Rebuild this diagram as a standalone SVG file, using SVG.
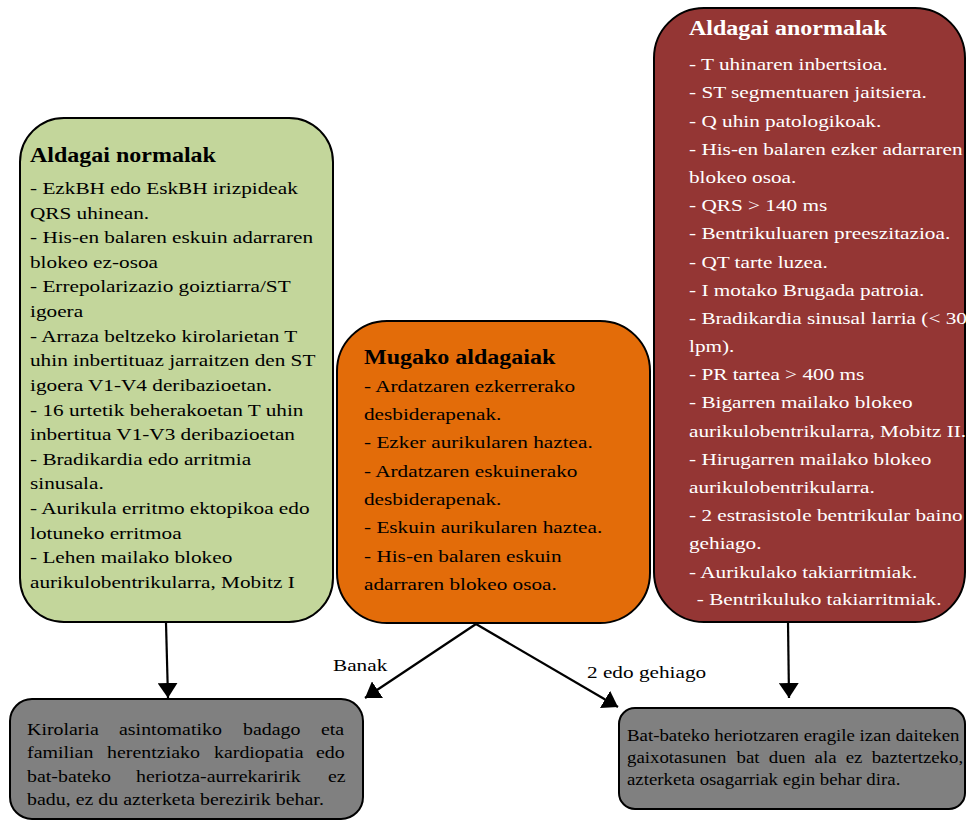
<svg xmlns="http://www.w3.org/2000/svg" width="966" height="821" viewBox="0 0 966 821">
<defs>
<marker id="ah" viewBox="0 0 15 20" refX="15" refY="10" markerWidth="15" markerHeight="20" markerUnits="userSpaceOnUse" orient="auto"><path d="M0,0 L15,10 L0,20 z" fill="#000"/></marker>
</defs>
<style>
.box{stroke:#000;stroke-width:2}
.t{font-family:"Liberation Serif","Times New Roman",serif;font-size:17.7px;fill:#000}
.h{font-weight:bold;font-size:20px}
.w{fill:#fff}
.s{font-size:16.6px}
.r{font-size:15.7px}
.c{stroke:#000;stroke-width:2.2;fill:none;marker-end:url(#ah)}
</style>
<rect width="966" height="821" fill="#fff"/>
<g id="normal">
<rect class="box" x="20" y="118" width="313" height="504" rx="44" fill="#C3D69B"/>
<text class="t" transform="matrix(1.2 0 0 1 30 0)">
<tspan class="h" x="0" y="162">Aldagai normalak</tspan>
<tspan x="0" y="194">- EzkBH edo EskBH irizpideak</tspan>
<tspan x="0" y="219">QRS uhinean.</tspan>
<tspan x="0" y="243">- His-en balaren eskuin adarraren</tspan>
<tspan x="0" y="268">blokeo ez-osoa</tspan>
<tspan x="0" y="292">- Errepolarizazio goiztiarra/ST</tspan>
<tspan x="0" y="317">igoera</tspan>
<tspan x="0" y="342">- Arraza beltzeko kirolarietan T</tspan>
<tspan x="0" y="366">uhin inbertituaz jarraitzen den ST</tspan>
<tspan x="0" y="391">igoera V1-V4 deribazioetan.</tspan>
<tspan x="0" y="416">- 16 urtetik beherakoetan T uhin</tspan>
<tspan x="0" y="440">inbertitua V1-V3 deribazioetan</tspan>
<tspan x="0" y="465">- Bradikardia edo arritmia</tspan>
<tspan x="0" y="489">sinusala.</tspan>
<tspan x="0" y="514">- Aurikula erritmo ektopikoa edo</tspan>
<tspan x="0" y="539">lotuneko erritmoa</tspan>
<tspan x="0" y="563">- Lehen mailako blokeo</tspan>
<tspan x="0" y="588">aurikulobentrikularra, Mobitz I</tspan>
</text>
</g>
<g id="mugako">
<rect class="box" x="337" y="321" width="313" height="302" rx="50" fill="#E36C09"/>
<text class="t" transform="matrix(1.2 0 0 1 364 0)">
<tspan class="h" x="0" y="364">Mugako aldagaiak</tspan>
<tspan x="0" y="392">- Ardatzaren ezkerrerako</tspan>
<tspan x="0" y="420">desbiderapenak.</tspan>
<tspan x="0" y="448">- Ezker aurikularen haztea.</tspan>
<tspan x="0" y="477">- Ardatzaren eskuinerako</tspan>
<tspan x="0" y="505">desbiderapenak.</tspan>
<tspan x="0" y="533">- Eskuin aurikularen haztea.</tspan>
<tspan x="0" y="562">- His-en balaren eskuin</tspan>
<tspan x="0" y="590">adarraren blokeo osoa.</tspan>
</text>
</g>
<g id="anormal">
<rect class="box" x="654" y="8" width="311" height="614" rx="50" fill="#943634"/>
<text class="t w" transform="matrix(1.2 0 0 1 689 0)">
<tspan class="h w" x="0" y="35">Aldagai anormalak</tspan>
<tspan x="0" y="70">- T uhinaren inbertsioa.</tspan>
<tspan x="0" y="98">- ST segmentuaren jaitsiera.</tspan>
<tspan x="0" y="127">- Q uhin patologikoak.</tspan>
<tspan x="0" y="155">- His-en balaren ezker adarraren</tspan>
<tspan x="0" y="183">blokeo osoa.</tspan>
<tspan x="0" y="211">- QRS &gt; 140 ms</tspan>
<tspan x="0" y="239">- Bentrikuluaren preeszitazioa.</tspan>
<tspan x="0" y="268">- QT tarte luzea.</tspan>
<tspan x="0" y="296">- I motako Brugada patroia.</tspan>
<tspan x="0" y="324">- Bradikardia sinusal larria (&lt; 30</tspan>
<tspan x="0" y="352">lpm).</tspan>
<tspan x="0" y="380">- PR tartea &gt; 400 ms</tspan>
<tspan x="0" y="408">- Bigarren mailako blokeo</tspan>
<tspan x="0" y="437">aurikulobentrikularra, Mobitz II.</tspan>
<tspan x="0" y="465">- Hirugarren mailako blokeo</tspan>
<tspan x="0" y="493">aurikulobentrikularra.</tspan>
<tspan x="0" y="521">- 2 estrasistole bentrikular baino</tspan>
<tspan x="0" y="549">gehiago.</tspan>
<tspan x="0" y="578">- Aurikulako takiarritmiak.</tspan>
<tspan x="6.5" y="605">- Bentrikuluko takiarritmiak.</tspan>
</text>
</g>
<g id="ezBerezirik">
<rect class="box" x="10" y="699" width="353" height="120" rx="22" fill="#808080"/>
<text class="t s" transform="matrix(1.2 0 0 1 27 0)">
<tspan x="0" y="735">Kirolaria</tspan><tspan x="76.7" y="735">asintomatiko</tspan><tspan x="180" y="735">badago</tspan><tspan x="245" y="735">eta</tspan>
<tspan x="0" y="758">familian</tspan><tspan x="66.7" y="758">herentziako</tspan><tspan x="155.8" y="758">kardiopatia</tspan><tspan x="240.8" y="758">edo</tspan>
<tspan x="0" y="782">bat-bateko</tspan><tspan x="90.8" y="782">heriotza-aurrekaririk</tspan><tspan x="250.8" y="782">ez</tspan>
<tspan x="0" y="805">badu, ez du azterketa berezirik behar.</tspan>
</text>
</g>
<g id="osagarriak">
<rect class="box" x="619" y="708" width="346" height="101" rx="16" fill="#808080"/>
<text class="t r" transform="matrix(1.2 0 0 1 627 0)">
<tspan x="0" y="741">Bat-bateko heriotzaren eragile izan daiteken</tspan>
<tspan x="0" y="763">gaixotasunen</tspan><tspan x="91.3" y="763">bat</tspan><tspan x="118.2" y="763">duen</tspan><tspan x="156.3" y="763">ala</tspan><tspan x="182.3" y="763">ez</tspan><tspan x="203.9" y="763">baztertzeko,</tspan>
<tspan x="0" y="785">azterketa osagarriak egin behar dira.</tspan>
</text>
</g>
<g id="connectors">
<line class="c" x1="166" y1="623" x2="168" y2="698"/>
<line class="c" x1="476" y1="624" x2="365" y2="698"/>
<line class="c" x1="476" y1="624" x2="618" y2="707"/>
<line class="c" x1="788" y1="622" x2="789" y2="698"/>
<text class="t" transform="matrix(1.2 0 0 1 333 0)"><tspan x="0" y="671">Banak</tspan></text>
<text class="t" transform="matrix(1.2 0 0 1 587 0)"><tspan x="0" y="678">2 edo gehiago</tspan></text>
</g>
</svg>
